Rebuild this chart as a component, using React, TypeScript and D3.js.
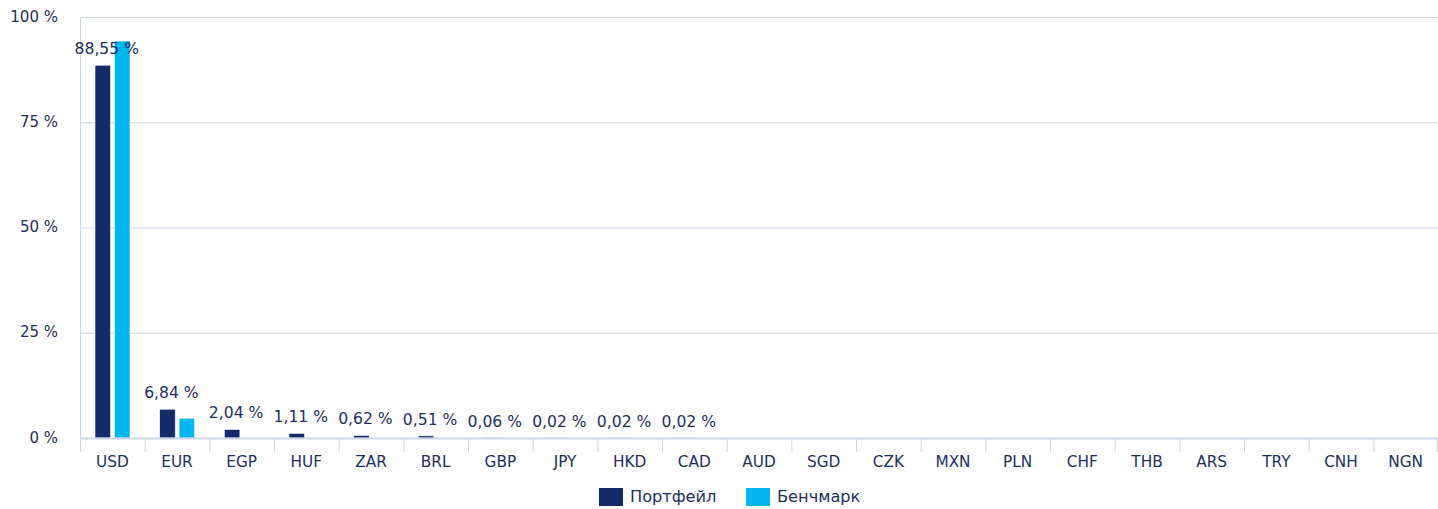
import React from "react";
import * as d3 from "d3";

const categories = ["USD","EUR","EGP","HUF","ZAR","BRL","GBP","JPY","HKD","CAD","AUD","SGD","CZK","MXN","PLN","CHF","THB","ARS","TRY","CNH","NGN"];
const portfolio = [88.55, 6.84, 2.04, 1.11, 0.62, 0.51, 0.06, 0.02, 0.02, 0.02, 0, 0, 0, 0, 0, 0, 0, 0, 0, 0, 0];
const benchmark = [94.3, 4.7, 0, 0, 0, 0, 0, 0, 0, 0, 0, 0, 0, 0, 0, 0, 0, 0, 0, 0, 0];
const yTicks = [0, 25, 50, 75, 100];
const seriesNames = ["Портфейл", "Бенчмарк"];

const W = 1438, H = 509;
const left = 80, right = 1438, top = 17, bottom = 438;
const DARK = "#132c69";
const LIGHT = "#00b6ee";
const TEXT = "#1c2f5e";
const GRID = "#ccd6e8";
const FONT = "'DejaVu Sans', Verdana, sans-serif";

const fmt = (v: number) => v.toFixed(2).replace(".", ",") + " %";

export default function App() {
  const x = d3.scaleBand<string>().domain(categories).range([left, right]).padding(0);
  const step = x.step();
  const inner = d3.scaleBand<string>().domain(["p", "b"]).range([step * 0.232, step * 0.773]).paddingInner(0.2);
  const y = d3.scaleLinear().domain([0, 100]).range([bottom, top]);

  return (
    <svg width={W} height={H} style={{ position: "absolute", left: 0, top: 0 }} fontFamily={FONT}>
      <rect width={W} height={H} fill="#fff" />
      {yTicks.map((t) => (
        <g key={t}>
          {t > 0 && <line x1={left} x2={right} y1={y(t) + 0.5} y2={y(t) + 0.5} stroke={GRID} strokeWidth={1} />}
          <text x={58} y={y(t)} textAnchor="end" dominantBaseline="middle" fontSize={15} fill={TEXT}>{t} %</text>
        </g>
      ))}
      <line x1={left + 0.5} x2={left + 0.5} y1={top} y2={bottom} stroke={GRID} strokeWidth={1} />
      {categories.map((c, i) => {
        const x0 = x(c)!;
        const p = portfolio[i];
        const b = benchmark[i];
        return (
          <g key={c}>
            {p > 0 && (
              <rect x={x0 + inner("p")!} y={y(p)} width={inner.bandwidth()} height={bottom - y(p)} fill={DARK} stroke="#fff" strokeWidth={0.6} />
            )}
            {b > 0 && (
              <rect x={x0 + inner("b")!} y={y(b)} width={inner.bandwidth()} height={bottom - y(b)} fill={LIGHT} stroke="#fff" strokeWidth={0.6} />
            )}
            {p > 0 && (
              <text x={x0 + inner("p")! + inner.bandwidth() / 2 + 4} y={y(p) - 11} textAnchor="middle" fontSize={15.6} fill={TEXT}>{fmt(p)}</text>
            )}
            <text x={x0 + step / 2} y={462} textAnchor="middle" dominantBaseline="middle" fontSize={15.3} fill={TEXT}>{c}</text>
          </g>
        );
      })}
      <line x1={left} x2={right} y1={bottom + 0.5} y2={bottom + 0.5} stroke={GRID} strokeWidth={2} />
      {categories.map((c) => (
        <line key={"t" + c} x1={x(c)! + 0.5} x2={x(c)! + 0.5} y1={bottom} y2={bottom + 14} stroke={GRID} strokeWidth={1} />
      ))}
      <line x1={right - 0.5} x2={right - 0.5} y1={bottom} y2={bottom + 14} stroke={GRID} strokeWidth={1} />
      <g>
        <rect x={599} y={488} width={24} height={18} fill={DARK} />
        <text x={630} y={497} dominantBaseline="middle" fontSize={16.2} fill={TEXT}>{seriesNames[0]}</text>
        <rect x={746} y={488} width={24} height={18} fill={LIGHT} />
        <text x={777} y={497} dominantBaseline="middle" fontSize={16.2} fill={TEXT}>{seriesNames[1]}</text>
      </g>
    </svg>
  );
}
